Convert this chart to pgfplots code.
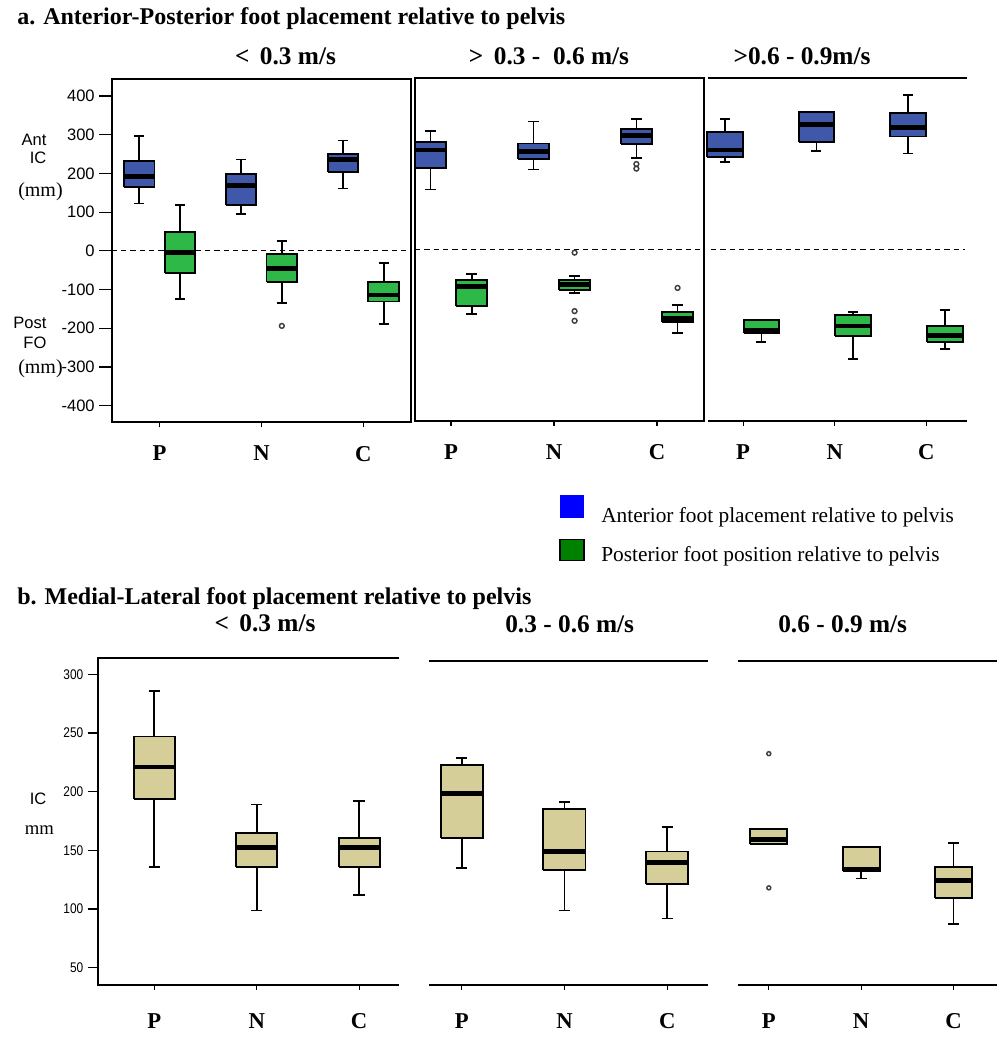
\documentclass[border=0pt]{standalone}
\usepackage{fontspec}
\setmainfont{Liberation Serif}
\newfontfamily\sansf{Liberation Sans}
\newfontfamily\narrowf[FakeStretch=0.85]{Liberation Sans}
\usepackage{pgfplots}
\pgfplotsset{compat=1.18}

\definecolor{bxblue}{RGB}{64,88,170}
\definecolor{bxgreen}{RGB}{46,184,72}
\definecolor{bxkhaki}{RGB}{214,206,152}

\pgfplotsset{
  panel/.style={
    scale only axis, clip=false, anchor=south west,
    axis line style={draw=none},
    tick align=outside,
    major tick length=3.75pt,
    xtick={0,1,2}, xticklabels={P,N,C},
    xtick pos=left, ytick pos=left,
    tick style={black, line width=0.9pt},
    xticklabel style={font=\fontsize{17}{17}\selectfont\bfseries},
  },
  wh/.style={black, line width=1.3pt, mark=none, solid},
  bxs/.style={draw=black, line width=1.4pt, mark=none, solid, line join=miter},
  md/.style={black, line width=3.6pt, mark=none, solid},
  outl/.style={only marks, mark=o, mark size=1.8pt, mark options={draw=black!75, line width=1.1pt, solid}},
}
\tikzset{
  frameline/.style={line width=1.3pt, black},
  zeroline/.style={line width=0.9pt, dash pattern=on 4pt off 3pt, black},
}

% #1 colour, #2 position, #3 lower whisker, #4 lower quartile, #5 median, #6 upper quartile, #7 upper whisker
% \hw = half box width, \cw = half cap width (axis units)
\newcommand{\BX}[7]{%
  \pgfmathsetmacro\xa{#2-\hw}\pgfmathsetmacro\xb{#2+\hw}%
  \pgfmathsetmacro\ca{#2-\cw}\pgfmathsetmacro\cb{#2+\cw}%
  \edef\doit{%
    \noexpand\addplot[wh] coordinates {(#2,#3) (#2,#4)};
    \noexpand\addplot[wh] coordinates {(#2,#6) (#2,#7)};
    \noexpand\addplot[wh] coordinates {(\ca,#3) (\cb,#3)};
    \noexpand\addplot[wh] coordinates {(\ca,#7) (\cb,#7)};
    \noexpand\addplot[bxs, fill=#1] coordinates {(\xa,#4) (\xb,#4) (\xb,#6) (\xa,#6) (\xa,#4)};
    \noexpand\addplot[md] coordinates {(\xa,#5) (\xb,#5)};
  }\doit}

\begin{document}
\begin{tikzpicture}
\begin{scope}[x=0.75pt,y=0.75pt]
\path[use as bounding box] (0,0) rectangle (998,1050);

% ---------- Titles ----------
\node[anchor=base west, inner sep=0, font=\fontsize{18}{20}\selectfont\bfseries] at (17,1025) {a. Anterior-Posterior foot placement relative to pelvis};
\node[anchor=base west, inner sep=0, font=\fontsize{18}{20}\selectfont\bfseries] at (17,445) {b. Medial-Lateral foot placement relative to pelvis};

\node[anchor=base, inner sep=0, font=\fontsize{19}{20}\selectfont\bfseries] at (285.5,985) {<\, 0.3 m/s};
\node[anchor=base, inner sep=0, font=\fontsize{19}{20}\selectfont\bfseries] at (549,985) {>\, 0.3 -\ \ 0.6 m/s};
\node[anchor=base, inner sep=0, font=\fontsize{19}{20}\selectfont\bfseries] at (802,985) {>0.6 - 0.9m/s};

\node[anchor=base, inner sep=0, font=\fontsize{19}{20}\selectfont\bfseries] at (265,418.3) {<\, 0.3 m/s};
\node[anchor=base, inner sep=0, font=\fontsize{19}{20}\selectfont\bfseries] at (569.7,417.7) {0.3 - 0.6 m/s};
\node[anchor=base, inner sep=0, font=\fontsize{19}{20}\selectfont\bfseries] at (842.7,417.7) {0.6 - 0.9 m/s};

% ---------- y labels ----------
\node[anchor=base east, inner sep=0, font=\sansf\fontsize{12.4}{13}\selectfont] at (46.7,904) {Ant};
\node[anchor=base east, inner sep=0, font=\sansf\fontsize{12.4}{13}\selectfont] at (46.7,886.7) {IC};
\node[anchor=base west, inner sep=0, font=\fontsize{15}{16}\selectfont] at (18,853.3) {(mm)};
\node[anchor=base east, inner sep=0, font=\sansf\fontsize{12.4}{13}\selectfont] at (46.7,721.7) {Post};
\node[anchor=base east, inner sep=0, font=\sansf\fontsize{12.4}{13}\selectfont] at (46.7,701.7) {FO};
\node[anchor=base west, inner sep=0, font=\fontsize{15}{16}\selectfont] at (18,676.7) {(mm)};
\node[anchor=base east, inner sep=0, font=\sansf\fontsize{12.4}{13}\selectfont] at (46.7,245) {IC};
\node[anchor=base, inner sep=0, font=\fontsize{14}{15}\selectfont] at (39.3,215) {mm};

% ---------- legend ----------
\fill[blue] (560,555) rectangle (584,532);
\filldraw[fill={rgb,255:red,0;green,128;blue,0}, draw=black, line width=0.9pt] (560,510.7) rectangle (584,489.3);
\node[anchor=base west, inner sep=0, font=\fontsize{16}{17}\selectfont] at (601,527.3) {Anterior foot placement relative to pelvis};
\node[anchor=base west, inner sep=0, font=\fontsize{16}{17}\selectfont] at (601,488.3) {Posterior foot position relative to pelvis};
\end{scope}

% ================= Panel a1 =================
\def\hw{0.15}\def\cw{0.05}
\begin{axis}[panel, at={(83.78pt,470.78pt)}, width=224.25pt, height=257.5pt,
  xmin=-0.47, xmax=2.465, ymin=-443, ymax=444,
  ytick={-400,-300,-200,-100,0,100,200,300,400},
  yticklabels={-400,-300,-200,-100,0,100,200,300,400},
  yticklabel style={font=\sansf\fontsize{12.4}{13}\selectfont, xshift=-5.5pt},
  ytick style={/pgfplots/major tick length=9.5pt},
  xticklabel style={yshift=-10.5pt}]
\BX{bxblue}{-0.2}{122}{165}{191}{233}{296}
\BX{bxblue}{0.8}{96}{117.5}{168}{199}{236}
\BX{bxblue}{1.8}{161}{203}{235}{251}{285}
\BX{bxgreen}{0.2}{-124}{-57}{-5}{48}{117.5}
\BX{bxgreen}{1.2}{-135}{-80}{-46}{-9}{26}
\addplot[outl] coordinates {(1.2,-194)};
\BX{bxgreen}{2.2}{-190}{-131}{-114}{-80}{-31.5}
\draw[zeroline] (axis cs:-0.47,0) -- (axis cs:2.465,0);
\draw[frameline] (rel axis cs:0,0) rectangle (rel axis cs:1,1);
\end{axis}

% ================= Panel a2 =================
\def\hw{0.15}\def\cw{0.05}
\begin{axis}[panel, at={(311.25pt,471.98pt)}, width=217pt, height=257.25pt,
  xmin=-0.35, xmax=2.46, ymin=-443, ymax=443,
  ytick=\empty,
  xticklabel style={yshift=-10.5pt}]
\BX{bxblue}{-0.2}{154}{210}{256}{276}{306}
\BX{bxblue}{0.8}{206}{232}{253}{273}{330}
\BX{bxblue}{1.8}{236.5}{272}{293}{311}{336}
\addplot[outl] coordinates {(1.8,220) (1.8,208)};
\BX{bxgreen}{0.2}{-168}{-147}{-96}{-80}{-65}
\BX{bxgreen}{1.2}{-114}{-106}{-92}{-80}{-69}
\addplot[outl] coordinates {(1.2,-9) (1.2,-160) (1.2,-185)};
\BX{bxgreen}{2.2}{-217}{-188}{-180}{-162}{-143.5}
\addplot[outl] coordinates {(2.2,-100)};
\draw[zeroline] (axis cs:-0.35,0) -- (axis cs:2.46,0);
\draw[frameline] (rel axis cs:0,0) rectangle (rel axis cs:1,1);
\end{axis}

% ================= Panel a3 =================
\def\hw{0.195}\def\cw{0.055}
\begin{axis}[panel, at={(531.23pt,471.98pt)}, width=193.8pt, height=257.25pt,
  xmin=-0.38, xmax=2.44, ymin=-443, ymax=443,
  ytick=\empty,
  xticklabel style={yshift=-10.5pt}]
\BX{bxblue}{-0.2}{224.5}{239}{256}{303}{336}
\BX{bxblue}{0.8}{254.5}{276}{323}{355}{355}
\BX{bxblue}{1.8}{247}{291}{315}{351}{399}
\BX{bxgreen}{0.2}{-239}{-217}{-210}{-184}{-184}
\BX{bxgreen}{1.2}{-284}{-224}{-198.5}{-170}{-162.5}
\BX{bxgreen}{2.2}{-258}{-240}{-222}{-198}{-158}
\draw[zeroline] (axis cs:-0.35,0) -- (axis cs:2.42,0);
\draw[frameline] (rel axis cs:0,0) -- (rel axis cs:1,0);
\draw[frameline] (rel axis cs:0,1) -- (rel axis cs:1,1);
\end{axis}

% ================= Panel b1 =================
\def\hw{0.2}\def\cw{0.055}
\begin{axis}[panel, at={(73.28pt,48.75pt)}, width=226pt, height=245.5pt,
  xmin=-0.553, xmax=2.39, ymin=35.2, ymax=314.2,
  ytick={50,100,150,200,250,300},
  yticklabels={50,100,150,200,250,300},
  yticklabel style={font=\narrowf\fontsize{10.5}{11}\selectfont, xshift=-3.5pt},
  ytick style={/pgfplots/major tick length=7.5pt},
  xticklabel style={yshift=-14.25pt}]
\BX{bxkhaki}{0}{136}{194}{221}{247}{286}
\BX{bxkhaki}{1}{98.6}{136}{152.6}{164.5}{189}
\BX{bxkhaki}{2}{112}{136}{152.6}{160.8}{191.8}
\draw[frameline] (rel axis cs:1,1) -- (rel axis cs:0,1) -- (rel axis cs:0,0) -- (rel axis cs:1,0);
\end{axis}

% ================= Panel b2 =================
\def\hw{0.205}\def\cw{0.055}
\begin{axis}[panel, at={(321.98pt,48.75pt)}, width=209.25pt, height=243pt,
  xmin=-0.315, xmax=2.40, ymin=35.2, ymax=311.4,
  ytick=\empty,
  xticklabel style={yshift=-14.25pt}]
\BX{bxkhaki}{0}{135}{160.5}{198.3}{222.7}{229}
\BX{bxkhaki}{1}{98.6}{133.5}{149}{185.2}{191.5}
\BX{bxkhaki}{2}{92}{121.6}{139.5}{149}{169.6}
\draw[frameline] (rel axis cs:0,0) -- (rel axis cs:1,0);
\draw[frameline] (rel axis cs:0,1) -- (rel axis cs:1,1);
\end{axis}

% ================= Panel b3 =================
\def\hw{0.2}\def\cw{0.06}
\begin{axis}[panel, at={(553.73pt,48.75pt)}, width=194pt, height=243pt,
  xmin=-0.33, xmax=2.47, ymin=35.2, ymax=311.4,
  ytick=\empty,
  xticklabel style={yshift=-14.25pt}]
\BX{bxkhaki}{0}{155.4}{155.4}{159.4}{168.5}{168.5}
\addplot[outl, mark size=1.5pt] coordinates {(0,232.4) (0,118)};
\BX{bxkhaki}{1}{126}{132}{134}{153}{153}
\BX{bxkhaki}{2}{87}{109}{124}{136}{156.5}
\draw[frameline] (rel axis cs:0,0) -- (rel axis cs:1,0);
\draw[frameline] (rel axis cs:0,1) -- (rel axis cs:1,1);
\end{axis}
\end{tikzpicture}
\end{document}
